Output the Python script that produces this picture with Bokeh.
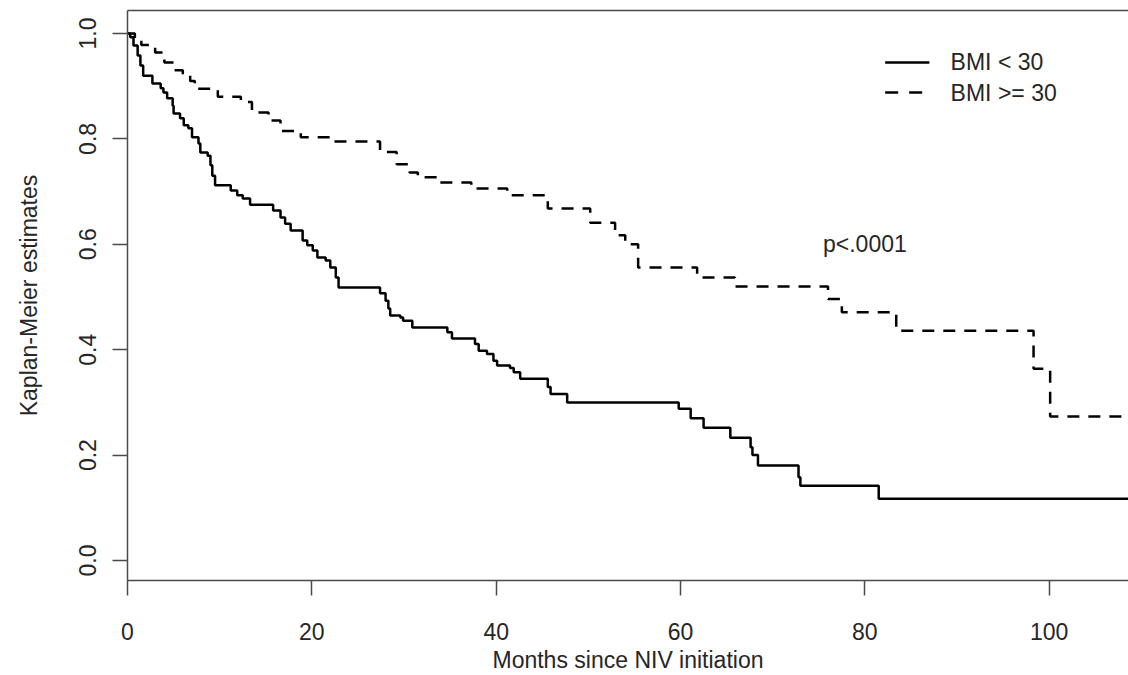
from bokeh.plotting import figure
from bokeh.models import Range1d, FixedTicker, PrintfTickFormatter, LinearAxis
from bokeh.core.properties import value
from bokeh.embed import file_html
from bokeh.resources import INLINE

# ---- data ----
series_names = ["BMI < 30", "BMI >= 30"]

bmi_lt30_time = [0, 0.3, 0.65, 1.1, 1.4, 1.7, 2.7, 3.6, 3.9, 4.3, 4.9, 5.0, 5.7, 6.1, 6.6,
                 7.0, 7.7, 7.9, 8.7, 9.0, 9.2, 9.5, 11.2, 11.9, 12.5, 13.3, 15.8, 16.6, 17.1,
                 17.7, 19.0, 19.5, 20.1, 20.6, 21.5, 22.0, 22.6, 22.9, 27.4, 28.0, 28.3, 28.5,
                 29.6, 29.9, 30.9, 34.7, 35.2, 37.7, 38.1, 39.0, 39.7, 40.1, 41.5, 41.9, 42.6,
                 45.6, 45.9, 47.7, 59.8, 61.1, 62.5, 65.4, 67.6, 67.8, 68.4, 72.8, 73.0, 81.5, 110]
bmi_lt30_surv = [1.0, 0.993, 0.977, 0.958, 0.939, 0.920, 0.905, 0.896, 0.888, 0.877, 0.863,
                 0.848, 0.839, 0.826, 0.82, 0.803, 0.791, 0.774, 0.768, 0.75, 0.73, 0.712,
                 0.702, 0.693, 0.687, 0.675, 0.664, 0.651, 0.639, 0.626, 0.607, 0.598, 0.588,
                 0.575, 0.569, 0.556, 0.537, 0.518, 0.507, 0.493, 0.478, 0.465, 0.461, 0.455,
                 0.442, 0.433, 0.421, 0.411, 0.398, 0.392, 0.379, 0.370, 0.365, 0.357, 0.345,
                 0.329, 0.316, 0.300, 0.288, 0.27, 0.252, 0.233, 0.215, 0.20, 0.18, 0.158,
                 0.142, 0.117, 0.117]

bmi_ge30_time = [0, 0.8, 1.5, 3.0, 4.0, 5.0, 6.0, 6.8, 7.3, 9.8, 12.3, 13.5, 15.3, 16.6, 18.8,
                 22.3, 27.4, 29.2, 30.6, 31.5, 33.8, 37.3, 41.2, 45.6, 50.2, 52.9, 54.0, 55.4,
                 61.8, 65.9, 76.0, 77.5, 83.4, 98.3, 100.1, 110]
bmi_ge30_surv = [1.0, 0.99, 0.978, 0.964, 0.945, 0.93, 0.92, 0.91, 0.895, 0.88, 0.87, 0.85,
                 0.835, 0.815, 0.803, 0.795, 0.775, 0.752, 0.736, 0.727, 0.717, 0.706, 0.693,
                 0.668, 0.641, 0.617, 0.60, 0.556, 0.537, 0.52, 0.496, 0.471, 0.436, 0.364,
                 0.273, 0.273]

x_ticks = [0, 20, 40, 60, 80, 100]
y_ticks = [0.0, 0.2, 0.4, 0.6, 0.8, 1.0]
p_value_text = "p<.0001"

FONT = "Liberation Sans"
FS = "23px"
TXT = "#262626"
AX = "#4a4a4a"

p = figure(width=1128, height=675,
           x_range=Range1d(0, 108.6), y_range=Range1d(-0.038, 1.0436),
           output_backend="svg", toolbar_location=None,
           min_border_left=127, min_border_right=0, min_border_top=10, min_border_bottom=95)
p.grid.visible = False
p.outline_line_color = None
p.background_fill_color = "white"
p.border_fill_color = "white"

# axes
for ax in (p.xaxis[0], p.yaxis[0]):
    ax.axis_line_color = AX
    ax.axis_line_width = 1.5
    ax.major_tick_line_color = AX
    ax.major_tick_line_width = 1.5
    ax.major_tick_in = 0
    ax.major_tick_out = 15
    ax.minor_tick_line_color = None
    ax.major_label_text_font = FONT
    ax.major_label_text_font_size = FS
    ax.major_label_text_color = TXT
    ax.axis_label_text_font = FONT
    ax.axis_label_text_font_size = FS
    ax.axis_label_text_font_style = "normal"
    ax.axis_label_text_color = TXT

p.xaxis.ticker = FixedTicker(ticks=x_ticks)
p.yaxis.ticker = FixedTicker(ticks=y_ticks)
p.yaxis.formatter = PrintfTickFormatter(format="%.1f")
p.yaxis.major_label_orientation = "vertical"
p.xaxis.axis_label = "Months since NIV initiation"
p.yaxis.axis_label = "Kaplan-Meier estimates"
p.xaxis.major_label_standoff = 27
p.xaxis.axis_label_standoff = 4
p.yaxis.major_label_standoff = 16
p.yaxis.axis_label_standoff = 35

top = LinearAxis(ticker=FixedTicker(ticks=[]), axis_line_color=AX, axis_line_width=1.5,
                 major_tick_line_color=None, minor_tick_line_color=None,
                 major_label_text_font_size="0px", major_label_standoff=0)
p.add_layout(top, "above")

# curves
p.step(bmi_lt30_time, bmi_lt30_surv, mode="after", line_color="black", line_width=2.5)
p.step(bmi_ge30_time, bmi_ge30_surv, mode="after", line_color="black", line_width=2.5,
       line_dash="12 9")

# legend (R style, no box)
leg_y = [0.945, 0.888]
p.segment(x0=[82.2], y0=[leg_y[0]], x1=[87.0], y1=[leg_y[0]], line_color="black", line_width=2.5)
p.segment(x0=[82.2], y0=[leg_y[1]], x1=[87.0], y1=[leg_y[1]], line_color="black", line_width=2.5,
          line_dash="13 11")
p.text(x=[89.3, 89.3], y=leg_y, text=series_names, text_font=value(FONT), text_font_size=FS,
       text_color=TXT, text_baseline="middle", text_align="left")

p.text(x=[80], y=[0.6], text=[p_value_text], text_font=value(FONT), text_font_size=FS,
       text_color=TXT, text_baseline="middle", text_align="center")

open("out.html", "w").write(file_html(p, INLINE))
